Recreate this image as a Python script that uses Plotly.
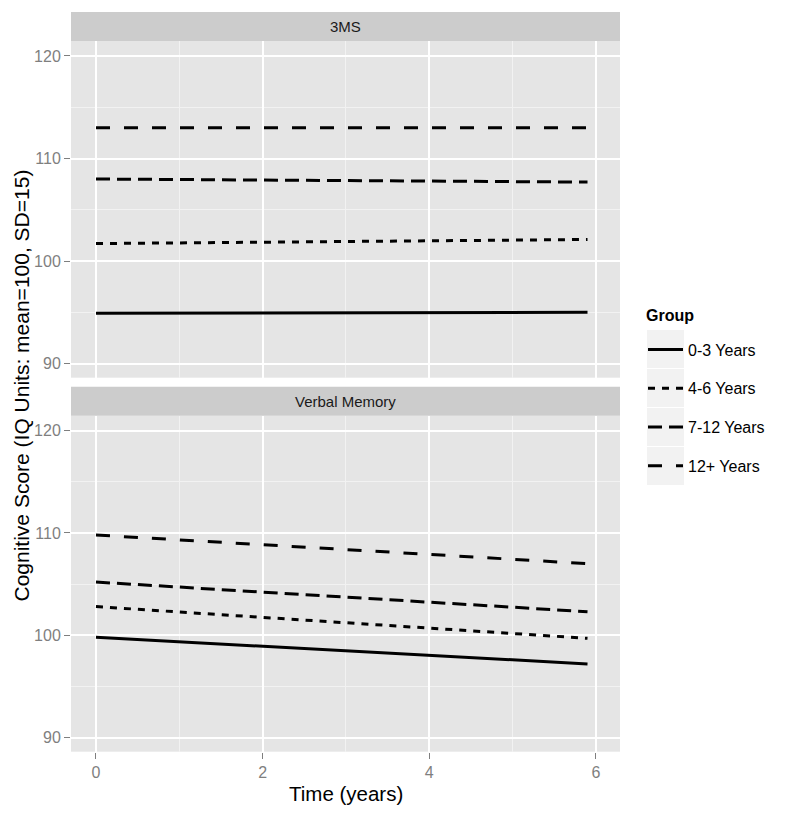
import plotly.graph_objects as go

# ---- data ----
time_years = [0, 5.9]
groups = ["0-3 Years", "4-6 Years", "7-12 Years", "12+ Years"]
panels = ["3MS", "Verbal Memory"]

ms3_g0_3 = [94.9, 95.0]
ms3_g4_6 = [101.7, 102.1]
ms3_g7_12 = [108.0, 107.7]
ms3_g12p = [113.0, 113.0]

vm_g0_3 = [99.8, 97.2]
vm_g4_6 = [102.8, 99.7]
vm_g7_12 = [105.2, 102.3]
vm_g12p = [109.8, 107.0]

y_ticks = [90, 100, 110, 120]
x_ticks = [0, 2, 4, 6]

# ---- styles ----
dashes = ["solid", "7px,7px", "14px,7px", "14px,14px"]
OFF = 8  # page body margin in the browser
W, H = 785 - OFF, 822 - OFF
FONT = "Liberation Sans, Arial, Helvetica, sans-serif"
TICK_GREY = "#7F7F7F"

def px_x(p):
    return (p - OFF) / W

def px_y(p):
    return 1 - (p - OFF) / H

fig = go.Figure()

series_top = [ms3_g0_3, ms3_g4_6, ms3_g7_12, ms3_g12p]
series_bot = [vm_g0_3, vm_g4_6, vm_g7_12, vm_g12p]

for i, g in enumerate(groups):
    fig.add_trace(go.Scatter(
        x=time_years, y=series_top[i], mode="lines", name=g,
        line=dict(color="black", width=3, dash=dashes[i]),
        xaxis="x", yaxis="y", legendgroup=g, showlegend=True))
for i, g in enumerate(groups):
    fig.add_trace(go.Scatter(
        x=time_years, y=series_bot[i], mode="lines", name=g,
        line=dict(color="black", width=3, dash=dashes[i]),
        xaxis="x2", yaxis="y2", legendgroup=g, showlegend=False))

xdom = [px_x(71), px_x(620)]
top_dom = [px_y(377.7), px_y(41)]
bot_dom = [px_y(751.7), px_y(415.7)]
yrange = [88.62, 121.46]
xrange = [-0.30, 6.29]

common_x = dict(range=xrange, tickvals=x_ticks, showgrid=True, gridcolor="white",
                gridwidth=1.6, zeroline=False, showline=False, automargin=False,
                minor=dict(dtick=1, tick0=0, showgrid=True, gridcolor="#F2F2F2", gridwidth=0.8))
common_y = dict(range=yrange, tickvals=y_ticks, showgrid=True, gridcolor="white",
                gridwidth=1.6, zeroline=False, showline=False, automargin=False,
                ticks="outside", ticklen=6, tickcolor=TICK_GREY, tickwidth=1,
                tickfont=dict(family=FONT, size=16, color=TICK_GREY),
                minor=dict(dtick=5, tick0=0, showgrid=True, gridcolor="#F2F2F2", gridwidth=0.8))

fig.update_layout(
    width=W, height=H,
    margin=dict(l=0, r=0, t=0, b=0, autoexpand=False),
    paper_bgcolor="white", plot_bgcolor="#E5E5E5",
    font=dict(family=FONT, color="black"),
    xaxis=dict(domain=xdom, anchor="y", showticklabels=False, ticks="", **common_x),
    xaxis2=dict(domain=xdom, anchor="y2", showticklabels=True, ticks="outside",
                ticklen=6, tickcolor=TICK_GREY, tickwidth=1,
                tickfont=dict(family=FONT, size=16, color=TICK_GREY), **common_x),
    yaxis=dict(domain=top_dom, anchor="x", **common_y),
    yaxis2=dict(domain=bot_dom, anchor="x2", **common_y),
    legend=dict(
        x=px_x(643), y=px_y(332.5), xanchor="left", yanchor="top",
        bgcolor="rgba(0,0,0,0)", borderwidth=0,
        font=dict(family=FONT, size=16, color="black"),
        tracegroupgap=15, itemwidth=35,
    ),
    showlegend=True,
)

shapes = []
# facet strips
for (t, b) in [(12, 41), (386.7, 415.7)]:
    shapes.append(dict(type="rect", xref="paper", yref="paper",
                       x0=xdom[0], x1=xdom[1], y0=px_y(b), y1=px_y(t),
                       fillcolor="#CCCCCC", line=dict(width=0), layer="below"))
# legend key backgrounds
key_top = 330
for k in range(4):
    t = key_top + k * 39
    shapes.append(dict(type="rect", xref="paper", yref="paper",
                       x0=px_x(647), x1=px_x(684), y0=px_y(t + 38), y1=px_y(t),
                       fillcolor="#F2F2F2", line=dict(width=0), layer="below"))
fig.update_layout(shapes=shapes)

annotations = [
    dict(text=panels[0], xref="paper", yref="paper", x=(xdom[0] + xdom[1]) / 2,
         y=px_y(26.5), showarrow=False, xanchor="center", yanchor="middle",
         font=dict(family=FONT, size=15, color="#1A1A1A")),
    dict(text=panels[1], xref="paper", yref="paper", x=(xdom[0] + xdom[1]) / 2,
         y=px_y(401.2), showarrow=False, xanchor="center", yanchor="middle",
         font=dict(family=FONT, size=15, color="#1A1A1A")),
    dict(text="Time (years)", xref="paper", yref="paper", x=(xdom[0] + xdom[1]) / 2,
         y=px_y(793), showarrow=False, xanchor="center", yanchor="middle",
         font=dict(family=FONT, size=20.5, color="black")),
    dict(text="Cognitive Score (IQ Units: mean=100, SD=15)", xref="paper", yref="paper",
         x=px_x(8), y=px_y(386), showarrow=False, xanchor="left", yanchor="middle",
         textangle=-90, borderpad=0, font=dict(family=FONT, size=21, color="black")),
    dict(text="<b>Group</b>", xref="paper", yref="paper", x=px_x(644),
         y=px_y(315), showarrow=False, xanchor="left", yanchor="middle",
         font=dict(family=FONT, size=16, color="black")),
]
fig.update_layout(annotations=annotations)

fig.write_html("out.html")
